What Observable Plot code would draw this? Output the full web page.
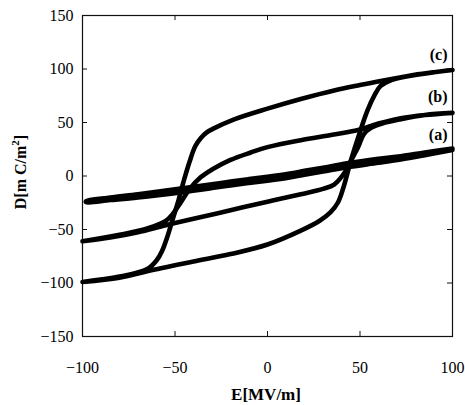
<!DOCTYPE html>
<html>
<head>
<meta charset="utf-8">
<script src="https://cdn.jsdelivr.net/npm/d3@7"></script>
<script src="https://cdn.jsdelivr.net/npm/@observablehq/plot@0.6"></script>
<style>
  html, body { margin: 0; padding: 0; background: #fff; }
</style>
</head>
<body>
<div id="chart"></div>
<script>
// Tick values
const E_ticks = [-100, -50, 0, 50, 100];
const D_ticks = [-150, -100, -50, 0, 50, 100, 150];

// Loop (a): upper branch (from +E to -E), lower branch (from -E to +E)
const loopA_upper = [[100,25.6],[85,21.9],[72,18.5],[60,16],[43,11.8],[30,7.8],[20,4.8],[12,2.3],[0,-0.7],[-10,-2.9],[-20,-5.2],[-30,-7.7],[-47,-11.7],[-70,-17],[-85,-20.1],[-98,-23.4]];
const loopA_lower = [[-98,-24.6],[-85,-22.5],[-70,-20],[-47,-15.3],[-30,-11.3],[-20,-8.8],[-10,-6.5],[0,-4.3],[12,-1.3],[20,1.2],[30,4.2],[43,8.2],[60,12.4],[72,15.5],[85,19.5],[100,24.4]];

// Loop (b)
const loopB_upper = [[100,59],[85,57],[72,54],[60,49],[49,43],[35,38.5],[18,33.5],[0,27],[-9,22],[-20,15],[-30,6],[-36,-1],[-42,-12],[-47,-25],[-51,-35],[-55,-42],[-65,-49],[-80,-55],[-100,-61]];
const loopB_lower = [[-100,-61],[-85,-57.5],[-70,-52.5],[-55,-46],[-40,-40],[-20,-32],[0,-24],[18,-17],[30,-12],[36,-8],[42,4],[45,14],[49,27],[52,39],[56,45],[62,49],[72,53],[85,57],[100,59]];

// Loop (c)
const loopC_upper = [[100,99],[90,97],[81,95],[70,91.5],[59,88],[50,85],[36,80],[18,72],[0,63],[-18,53],[-29,44.5],[-33,40.5],[-36,35.5],[-39,28],[-42,14],[-45,-3],[-48,-22],[-51,-39],[-54,-56],[-57,-70],[-60,-79],[-65,-87],[-80,-94],[-100,-99]];
const loopC_lower = [[-100,-99],[-80,-95],[-65,-89],[-40,-80],[-20,-73],[0,-64],[18,-51],[28,-42],[34,-34],[38,-25],[41,-11],[45,14],[49,36],[54,61],[58,76],[61,84],[66,89],[75,93],[90,97],[100,99]];

// Curve labels
const labelText = ["(c)", "(b)", "(a)"];
const labelE = [97.3, 97.3, 97.3];
const labelD = [113.5, 74.3, 38.8];

const loops = [
  {name: "a", pts: loopA_upper.concat(loopA_lower)},
  {name: "b", pts: loopB_upper.concat(loopB_lower)},
  {name: "c", pts: loopC_upper.concat(loopC_lower)}
];
const rows = loops.flatMap(l => l.pts.map(([E, D]) => ({loop: l.name, E, D})));
const labels = labelText.map((t, i) => ({t, E: labelE[i], D: labelD[i]}));

const tickLenX = 2.7; // in E units (~5px)
const tickLenY = 4.7; // in D units (~5px)

const plot = Plot.plot({
  width: 465,
  height: 405,
  marginLeft: 82,
  marginRight: 13,
  marginTop: 15,
  marginBottom: 69,
  style: {fontFamily: "'Liberation Serif', 'Times New Roman', serif", fontSize: "16px", background: "#fff", color: "#000"},
  x: {domain: [-100, 100], ticks: E_ticks, tickSize: 0, tickPadding: 25, label: null},
  y: {domain: [-150, 150], ticks: D_ticks, tickSize: 0, tickPadding: 9, label: null},
  marks: [
    Plot.frame({stroke: "#111", strokeWidth: 1.2}),
    // inward ticks
    Plot.ruleX(E_ticks, {x: d => d, y1: -150, y2: -150 + tickLenY, stroke: "#111"}),
    Plot.ruleX(E_ticks, {x: d => d, y1: 150, y2: 150 - tickLenY, stroke: "#111"}),
    Plot.ruleY(D_ticks, {y: d => d, x1: -100, x2: -100 + tickLenX, stroke: "#111"}),
    Plot.ruleY(D_ticks, {y: d => d, x1: 100, x2: 100 - tickLenX, stroke: "#111"}),
    Plot.line(rows, {x: "E", y: "D", z: "loop", stroke: "#000", strokeWidth: 4.6, curve: "catmull-rom", strokeLinejoin: "round", strokeLinecap: "round"}),
    Plot.text(labels, {x: "E", y: "D", text: "t", textAnchor: "end", fontWeight: "bold", fontSize: 16, fill: "#000"})
  ]
});

document.getElementById("chart").appendChild(plot);

const svg = d3.select(plot);
svg.append("text")
  .attr("x", 266).attr("y", 400)
  .attr("text-anchor", "middle")
  .attr("font-weight", "bold")
  .attr("font-size", 17)
  .attr("fill", "#000")
  .text("E[MV/m]");

const yl = svg.append("text")
  .attr("transform", "translate(26,172) rotate(-90)")
  .attr("text-anchor", "middle")
  .attr("font-weight", "bold")
  .attr("font-size", 16)
  .attr("fill", "#000");
yl.append("tspan").text("D[m C/m");
yl.append("tspan").attr("font-size", 11).attr("dy", -7).text("2");
yl.append("tspan").attr("dy", 7).text("]");
</script>
</body>
</html>
